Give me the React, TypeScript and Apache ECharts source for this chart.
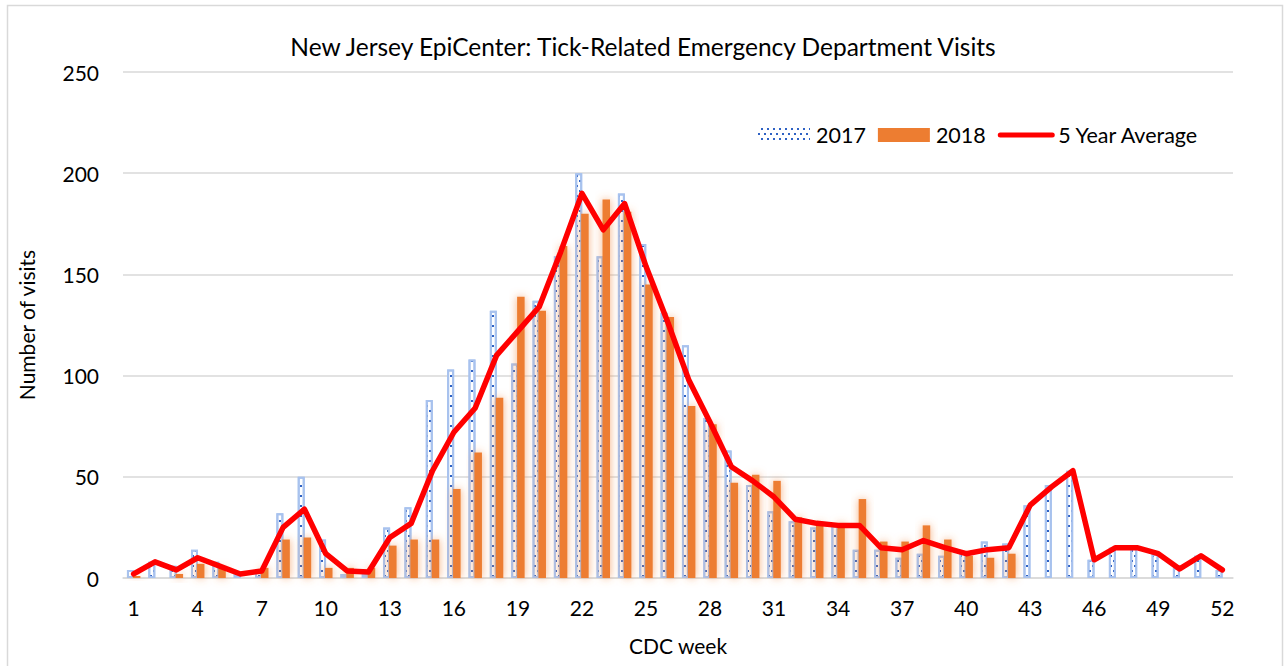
import React, { useEffect, useRef } from "react";
import * as echarts from "echarts";

const weeks: string[] = Array.from({ length: 52 }, (_, i) => String(i + 1));

const y2017: number[] = [
  4, 8, 6, 14, 8, 2, 3, 32, 50, 19, 2, 2, 25, 35, 88, 103, 108, 132, 106, 137,
  159, 200, 159, 190, 165, 131, 115, 79, 63, 46, 33, 28, 25, 26, 14, 14, 10, 12,
  11, 13, 18, 17, 36, 46, 53, 9, 15, 15, 12, 5, 11, 4,
];

const y2018: (number | null)[] = [
  1, 0, 2, 7, 5, 0, 5, 19, 20, 5, 5, 5, 16, 19, 19, 44, 62, 89, 139, 132, 164,
  180, 187, 181, 145, 129, 85, 76, 47, 51, 48, 30, 27, 27, 39, 18, 18, 26, 19,
  11, 10, 12, null, null, null, null, null, null, null, null, null, null,
];

const avg5: number[] = [
  2, 8, 4, 10, 6, 2, 3.5, 25, 34, 12, 3.5, 3, 20, 27, 53, 72, 84, 110, 122, 134,
  161, 190, 172, 185, 154, 127, 98, 77, 55, 48, 40, 29, 27, 26, 26, 15, 14, 18.5,
  15, 12, 14, 15, 36, 45, 53, 9, 15, 15, 12, 4.5, 11, 4,
];

const yTicks = { min: 0, max: 250, interval: 50 };

const FONT = "Lato";

const dotDecal = {
  symbol: "rect",
  symbolSize: 1,
  color: "#2F62C4",
  dashArrayX: [
    [1.6, 3.4],
    [0, 2.5, 1.6, 0.9],
  ],
  dashArrayY: [1.6, 2.6],
  rotation: 0,
};

export default function App() {
  const ref = useRef<HTMLDivElement>(null);
  useEffect(() => {
    document.body.style.margin = "0";
    if (!ref.current) return;
    const chart = echarts.init(ref.current, null, { renderer: "svg" });
    chart.setOption({
      animation: false,
      backgroundColor: "#ffffff",
      textStyle: { fontFamily: FONT },
      title: {
        text: "New Jersey EpiCenter: Tick-Related Emergency Department Visits",
        left: "center",
        top: 29,
        textStyle: { fontFamily: FONT, fontSize: 24.5, fontWeight: "normal", color: "#000" },
      },
      legend: {
        left: 753,
        top: 119,
        itemWidth: 52,
        itemHeight: 14,
        itemGap: 12,
        textStyle: { fontFamily: FONT, fontSize: 21.5, color: "#000", padding: [0, 0, 0, 1] },
        data: [
          { name: "2017", icon: "rect", itemStyle: { borderWidth: 0, shadowBlur: 0, color: "#fff", decal: dotDecal } },
          { name: "2018", icon: "rect", itemStyle: { shadowBlur: 0 } },
          {
            name: "5 Year Average",
            itemStyle: { color: "rgba(0,0,0,0)", borderWidth: 0, opacity: 0 },
            lineStyle: { width: 5, cap: "round", color: "#FF0000" },
          },
        ],
      },
      grid: { left: 123, right: 53, top: 72, bottom: 88 },
      graphic: [
        {
          type: "rect",
          shape: { x: 7.5, y: 5.5, width: 1275, height: 680 },
          style: { fill: "none", stroke: "#d9d9d9", lineWidth: 1.5 },
          silent: true,
        },
      ],
      xAxis: {
        type: "category",
        data: weeks,
        boundaryGap: true,
        name: "CDC week",
        nameLocation: "middle",
        nameGap: 57,
        nameTextStyle: { fontFamily: FONT, fontSize: 21, color: "#000" },
        axisLine: { lineStyle: { color: "#d9d9d9", width: 1.5 } },
        axisTick: { show: false },
        axisLabel: { interval: 2, margin: 19, fontFamily: FONT, fontSize: 21, color: "#000" },
      },
      yAxis: {
        type: "value",
        min: yTicks.min,
        max: yTicks.max,
        interval: yTicks.interval,
        name: "Number of visits",
        nameLocation: "middle",
        nameGap: 86,
        nameRotate: 90,
        nameTextStyle: { fontFamily: FONT, fontSize: 21, color: "#000" },
        axisLine: { show: false },
        axisTick: { show: false },
        axisLabel: { margin: 24, fontFamily: FONT, fontSize: 21, color: "#000" },
        splitLine: { lineStyle: { color: "#d9d9d9", width: 1.5 } },
      },
      series: [
        {
          name: "2017",
          type: "bar",
          data: y2017,
          barWidth: 7,
          barGap: "-15%",
          itemStyle: {
            color: "#ffffff",
            borderColor: "#A8C2EE",
            borderWidth: 2,
            decal: dotDecal,
          },
          z: 2,
        },
        {
          name: "2018",
          type: "bar",
          data: y2018,
          barWidth: 7.5,
          itemStyle: {
            color: "#ED7D31",
            shadowBlur: 9,
            shadowColor: "rgba(242,140,70,0.7)",
          },
          z: 3,
        },
        {
          name: "5 Year Average",
          type: "line",
          data: avg5,
          symbol: "none",
          showSymbol: false,
          lineStyle: { color: "#FF0000", width: 5.5, join: "round", cap: "round" },
          itemStyle: { color: "#FF0000" },
          z: 5,
        },
      ],
    });
    return () => chart.dispose();
  }, []);
  return <div ref={ref} style={{ width: 1286, height: 666 }} />;
}
